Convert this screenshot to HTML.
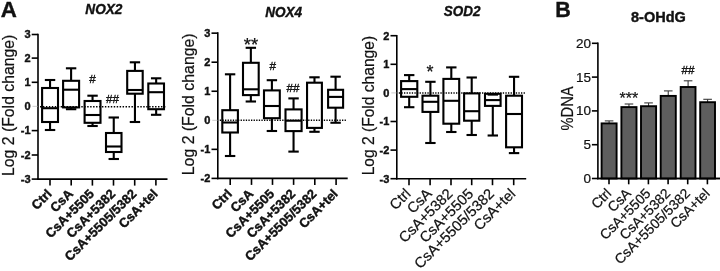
<!DOCTYPE html>
<html><head><meta charset="utf-8"><title>Figure</title>
<style>
html,body{margin:0;padding:0;background:#fff;}
body{width:720px;height:271px;overflow:hidden;}
svg{display:block;font-family:"Liberation Sans", Arial, sans-serif;will-change:transform;filter:grayscale(1);}
</style></head>
<body>
<svg width="720" height="271" viewBox="0 0 720 271">
<rect width="720" height="271" fill="#fff"/>
<line x1="38.00" y1="33.70" x2="38.00" y2="179.90" stroke="#000" stroke-width="1.6" />
<line x1="37.20" y1="179.10" x2="167.50" y2="179.10" stroke="#000" stroke-width="1.6" />
<line x1="31.70" y1="34.50" x2="38.00" y2="34.50" stroke="#000" stroke-width="1.6" />
<text x="30.50" y="38.00" font-size="11" font-weight="bold" font-style="normal" text-anchor="end" fill="#111"  stroke="#111" stroke-width="0.4">3</text>
<line x1="31.70" y1="58.10" x2="38.00" y2="58.10" stroke="#000" stroke-width="1.6" />
<text x="30.50" y="61.60" font-size="11" font-weight="bold" font-style="normal" text-anchor="end" fill="#111"  stroke="#111" stroke-width="0.4">2</text>
<line x1="31.70" y1="82.30" x2="38.00" y2="82.30" stroke="#000" stroke-width="1.6" />
<text x="30.50" y="85.80" font-size="11" font-weight="bold" font-style="normal" text-anchor="end" fill="#111"  stroke="#111" stroke-width="0.4">1</text>
<line x1="32.50" y1="106.35" x2="38.00" y2="106.35" stroke="#aaa" stroke-width="0.6" />
<text x="30.50" y="109.85" font-size="11" font-weight="bold" font-style="normal" text-anchor="end" fill="#111"  stroke="#111" stroke-width="0.4">0</text>
<line x1="31.70" y1="130.60" x2="38.00" y2="130.60" stroke="#000" stroke-width="1.6" />
<text x="30.50" y="134.10" font-size="11" font-weight="bold" font-style="normal" text-anchor="end" fill="#111"  stroke="#111" stroke-width="0.4">-1</text>
<line x1="31.70" y1="155.00" x2="38.00" y2="155.00" stroke="#000" stroke-width="1.6" />
<text x="30.50" y="158.50" font-size="11" font-weight="bold" font-style="normal" text-anchor="end" fill="#111"  stroke="#111" stroke-width="0.4">-2</text>
<line x1="31.70" y1="179.10" x2="38.00" y2="179.10" stroke="#000" stroke-width="1.6" />
<text x="30.50" y="182.60" font-size="11" font-weight="bold" font-style="normal" text-anchor="end" fill="#111"  stroke="#111" stroke-width="0.4">-3</text>
<line x1="50.00" y1="179.10" x2="50.00" y2="185.60" stroke="#000" stroke-width="1.6" />
<text x="52.60" y="194.60" font-size="13" font-weight="bold" font-style="normal" text-anchor="end" fill="#111" transform="rotate(-45 52.60 194.60)"  stroke="#111" stroke-width="0.4">Ctrl</text>
<line x1="71.20" y1="179.10" x2="71.20" y2="185.60" stroke="#000" stroke-width="1.6" />
<text x="73.80" y="194.60" font-size="13" font-weight="bold" font-style="normal" text-anchor="end" fill="#111" transform="rotate(-45 73.80 194.60)"  stroke="#111" stroke-width="0.4">CsA</text>
<line x1="92.40" y1="179.10" x2="92.40" y2="185.60" stroke="#000" stroke-width="1.6" />
<text x="95.00" y="194.60" font-size="13" font-weight="bold" font-style="normal" text-anchor="end" fill="#111" transform="rotate(-45 95.00 194.60)"  stroke="#111" stroke-width="0.4">CsA+5505</text>
<line x1="113.50" y1="179.10" x2="113.50" y2="185.60" stroke="#000" stroke-width="1.6" />
<text x="116.10" y="194.60" font-size="13" font-weight="bold" font-style="normal" text-anchor="end" fill="#111" transform="rotate(-45 116.10 194.60)"  stroke="#111" stroke-width="0.4">CsA+5382</text>
<line x1="134.70" y1="179.10" x2="134.70" y2="185.60" stroke="#000" stroke-width="1.6" />
<text x="137.30" y="194.60" font-size="13" font-weight="bold" font-style="normal" text-anchor="end" fill="#111" transform="rotate(-45 137.30 194.60)"  stroke="#111" stroke-width="0.4">CsA+5505/5382</text>
<line x1="155.90" y1="179.10" x2="155.90" y2="185.60" stroke="#000" stroke-width="1.6" />
<text x="158.50" y="194.60" font-size="13" font-weight="bold" font-style="normal" text-anchor="end" fill="#111" transform="rotate(-45 158.50 194.60)"  stroke="#111" stroke-width="0.4">CsA+tel</text>
<line x1="50.05" y1="80.00" x2="50.05" y2="88.00" stroke="#000" stroke-width="2.1" />
<line x1="44.85" y1="80.00" x2="55.25" y2="80.00" stroke="#000" stroke-width="2.1" />
<line x1="50.05" y1="122.00" x2="50.05" y2="130.00" stroke="#000" stroke-width="2.1" />
<line x1="44.85" y1="130.00" x2="55.25" y2="130.00" stroke="#000" stroke-width="2.1" />
<rect x="42.10" y="88.00" width="15.90" height="34.00" fill="none" stroke="#000" stroke-width="2.1"/>
<line x1="42.10" y1="108.20" x2="58.00" y2="108.20" stroke="#000" stroke-width="2.1" />
<line x1="71.10" y1="68.30" x2="71.10" y2="80.80" stroke="#000" stroke-width="2.1" />
<line x1="65.90" y1="68.30" x2="76.30" y2="68.30" stroke="#000" stroke-width="2.1" />
<line x1="71.10" y1="107.40" x2="71.10" y2="109.20" stroke="#000" stroke-width="2.1" />
<line x1="65.90" y1="109.20" x2="76.30" y2="109.20" stroke="#000" stroke-width="2.1" />
<rect x="63.10" y="80.80" width="16.00" height="26.60" fill="none" stroke="#000" stroke-width="2.1"/>
<line x1="63.10" y1="89.70" x2="79.10" y2="89.70" stroke="#000" stroke-width="2.1" />
<line x1="92.55" y1="95.70" x2="92.55" y2="101.00" stroke="#000" stroke-width="2.1" />
<line x1="87.35" y1="95.70" x2="97.75" y2="95.70" stroke="#000" stroke-width="2.1" />
<line x1="92.55" y1="122.80" x2="92.55" y2="126.00" stroke="#000" stroke-width="2.1" />
<line x1="87.35" y1="126.00" x2="97.75" y2="126.00" stroke="#000" stroke-width="2.1" />
<rect x="84.60" y="101.00" width="15.90" height="21.80" fill="none" stroke="#000" stroke-width="2.1"/>
<line x1="84.60" y1="115.00" x2="100.50" y2="115.00" stroke="#000" stroke-width="2.1" />
<line x1="113.75" y1="117.50" x2="113.75" y2="133.00" stroke="#000" stroke-width="2.1" />
<line x1="108.55" y1="117.50" x2="118.95" y2="117.50" stroke="#000" stroke-width="2.1" />
<line x1="113.75" y1="152.00" x2="113.75" y2="159.00" stroke="#000" stroke-width="2.1" />
<line x1="108.55" y1="159.00" x2="118.95" y2="159.00" stroke="#000" stroke-width="2.1" />
<rect x="106.00" y="133.00" width="15.50" height="19.00" fill="none" stroke="#000" stroke-width="2.1"/>
<line x1="106.00" y1="146.50" x2="121.50" y2="146.50" stroke="#000" stroke-width="2.1" />
<line x1="134.95" y1="62.30" x2="134.95" y2="70.90" stroke="#000" stroke-width="2.1" />
<line x1="129.75" y1="62.30" x2="140.15" y2="62.30" stroke="#000" stroke-width="2.1" />
<line x1="134.95" y1="93.70" x2="134.95" y2="122.00" stroke="#000" stroke-width="2.1" />
<line x1="129.75" y1="122.00" x2="140.15" y2="122.00" stroke="#000" stroke-width="2.1" />
<rect x="127.20" y="70.90" width="15.50" height="22.80" fill="none" stroke="#000" stroke-width="2.1"/>
<line x1="127.20" y1="90.00" x2="142.70" y2="90.00" stroke="#000" stroke-width="2.1" />
<line x1="156.15" y1="78.30" x2="156.15" y2="83.50" stroke="#000" stroke-width="2.1" />
<line x1="150.95" y1="78.30" x2="161.35" y2="78.30" stroke="#000" stroke-width="2.1" />
<line x1="156.15" y1="109.20" x2="156.15" y2="114.80" stroke="#000" stroke-width="2.1" />
<line x1="150.95" y1="114.80" x2="161.35" y2="114.80" stroke="#000" stroke-width="2.1" />
<rect x="148.30" y="83.50" width="15.70" height="25.70" fill="none" stroke="#000" stroke-width="2.1"/>
<line x1="148.30" y1="92.20" x2="164.00" y2="92.20" stroke="#000" stroke-width="2.1" />
<line x1="40.00" y1="106.80" x2="166.50" y2="106.80" stroke="#000" stroke-width="1.5" stroke-dasharray="1.45 1.5"/>
<text x="103.90" y="14.30" font-size="15" font-weight="bold" font-style="italic" text-anchor="middle" fill="#111" textLength="37.1" lengthAdjust="spacingAndGlyphs" stroke="#111" stroke-width="0.4">NOX2</text>
<text x="14.30" y="105.30" font-size="16.3" font-weight="normal" font-style="normal" text-anchor="middle" fill="#111" transform="rotate(-90 14.30 105.30)" textLength="141.3" lengthAdjust="spacingAndGlyphs" stroke="#111" stroke-width="0.22">Log 2 (Fold change)</text>
<text x="92.50" y="83.20" font-size="11.7" font-weight="normal" font-style="normal" text-anchor="middle" fill="#111" stroke="#111" stroke-width="0.35">#</text>
<text x="112.50" y="103.30" font-size="11.7" font-weight="normal" font-style="normal" text-anchor="middle" fill="#111" stroke="#111" stroke-width="0.35">##</text>
<text x="0.80" y="16.80" font-size="22.3" font-weight="bold" font-style="normal" text-anchor="start" fill="#111"  stroke="#111" stroke-width="0.4">A</text>
<line x1="217.80" y1="32.35" x2="217.80" y2="179.20" stroke="#000" stroke-width="1.6" />
<line x1="217.00" y1="178.40" x2="347.70" y2="178.40" stroke="#000" stroke-width="1.6" />
<line x1="211.50" y1="33.15" x2="217.80" y2="33.15" stroke="#000" stroke-width="1.6" />
<text x="210.30" y="36.65" font-size="11" font-weight="bold" font-style="normal" text-anchor="end" fill="#111"  stroke="#111" stroke-width="0.4">3</text>
<line x1="211.50" y1="62.20" x2="217.80" y2="62.20" stroke="#000" stroke-width="1.6" />
<text x="210.30" y="65.70" font-size="11" font-weight="bold" font-style="normal" text-anchor="end" fill="#111"  stroke="#111" stroke-width="0.4">2</text>
<line x1="211.50" y1="91.25" x2="217.80" y2="91.25" stroke="#000" stroke-width="1.6" />
<text x="210.30" y="94.75" font-size="11" font-weight="bold" font-style="normal" text-anchor="end" fill="#111"  stroke="#111" stroke-width="0.4">1</text>
<line x1="212.30" y1="120.30" x2="217.80" y2="120.30" stroke="#aaa" stroke-width="0.6" />
<text x="210.30" y="123.80" font-size="11" font-weight="bold" font-style="normal" text-anchor="end" fill="#111"  stroke="#111" stroke-width="0.4">0</text>
<line x1="211.50" y1="149.35" x2="217.80" y2="149.35" stroke="#000" stroke-width="1.6" />
<text x="210.30" y="152.85" font-size="11" font-weight="bold" font-style="normal" text-anchor="end" fill="#111"  stroke="#111" stroke-width="0.4">-1</text>
<line x1="211.50" y1="178.40" x2="217.80" y2="178.40" stroke="#000" stroke-width="1.6" />
<text x="210.30" y="181.90" font-size="11" font-weight="bold" font-style="normal" text-anchor="end" fill="#111"  stroke="#111" stroke-width="0.4">-2</text>
<line x1="230.20" y1="178.40" x2="230.20" y2="184.90" stroke="#000" stroke-width="1.6" />
<text x="232.80" y="194.60" font-size="13" font-weight="bold" font-style="normal" text-anchor="end" fill="#111" transform="rotate(-45 232.80 194.60)"  stroke="#111" stroke-width="0.4">Ctrl</text>
<line x1="251.50" y1="178.40" x2="251.50" y2="184.90" stroke="#000" stroke-width="1.6" />
<text x="254.10" y="194.60" font-size="13" font-weight="bold" font-style="normal" text-anchor="end" fill="#111" transform="rotate(-45 254.10 194.60)"  stroke="#111" stroke-width="0.4">CsA</text>
<line x1="272.50" y1="178.40" x2="272.50" y2="184.90" stroke="#000" stroke-width="1.6" />
<text x="275.10" y="194.60" font-size="13" font-weight="bold" font-style="normal" text-anchor="end" fill="#111" transform="rotate(-45 275.10 194.60)"  stroke="#111" stroke-width="0.4">CsA+5505</text>
<line x1="293.60" y1="178.40" x2="293.60" y2="184.90" stroke="#000" stroke-width="1.6" />
<text x="296.20" y="194.60" font-size="13" font-weight="bold" font-style="normal" text-anchor="end" fill="#111" transform="rotate(-45 296.20 194.60)"  stroke="#111" stroke-width="0.4">CsA+5382</text>
<line x1="314.80" y1="178.40" x2="314.80" y2="184.90" stroke="#000" stroke-width="1.6" />
<text x="317.40" y="194.60" font-size="13" font-weight="bold" font-style="normal" text-anchor="end" fill="#111" transform="rotate(-45 317.40 194.60)"  stroke="#111" stroke-width="0.4">CsA+5505/5382</text>
<line x1="336.10" y1="178.40" x2="336.10" y2="184.90" stroke="#000" stroke-width="1.6" />
<text x="338.70" y="194.60" font-size="13" font-weight="bold" font-style="normal" text-anchor="end" fill="#111" transform="rotate(-45 338.70 194.60)"  stroke="#111" stroke-width="0.4">CsA+tel</text>
<line x1="230.10" y1="74.30" x2="230.10" y2="110.20" stroke="#000" stroke-width="2.1" />
<line x1="224.90" y1="74.30" x2="235.30" y2="74.30" stroke="#000" stroke-width="2.1" />
<line x1="230.10" y1="132.50" x2="230.10" y2="156.00" stroke="#000" stroke-width="2.1" />
<line x1="224.90" y1="156.00" x2="235.30" y2="156.00" stroke="#000" stroke-width="2.1" />
<rect x="222.30" y="110.20" width="15.60" height="22.30" fill="none" stroke="#000" stroke-width="2.1"/>
<line x1="222.30" y1="122.50" x2="237.90" y2="122.50" stroke="#000" stroke-width="2.1" />
<line x1="250.85" y1="47.80" x2="250.85" y2="62.80" stroke="#000" stroke-width="2.1" />
<line x1="245.65" y1="47.80" x2="256.05" y2="47.80" stroke="#000" stroke-width="2.1" />
<line x1="250.85" y1="95.10" x2="250.85" y2="101.50" stroke="#000" stroke-width="2.1" />
<line x1="245.65" y1="101.50" x2="256.05" y2="101.50" stroke="#000" stroke-width="2.1" />
<rect x="243.00" y="62.80" width="15.70" height="32.30" fill="none" stroke="#000" stroke-width="2.1"/>
<line x1="243.00" y1="89.30" x2="258.70" y2="89.30" stroke="#000" stroke-width="2.1" />
<line x1="271.90" y1="80.20" x2="271.90" y2="90.40" stroke="#000" stroke-width="2.1" />
<line x1="266.70" y1="80.20" x2="277.10" y2="80.20" stroke="#000" stroke-width="2.1" />
<line x1="271.90" y1="118.20" x2="271.90" y2="131.00" stroke="#000" stroke-width="2.1" />
<line x1="266.70" y1="131.00" x2="277.10" y2="131.00" stroke="#000" stroke-width="2.1" />
<rect x="264.00" y="90.40" width="15.80" height="27.80" fill="none" stroke="#000" stroke-width="2.1"/>
<line x1="264.00" y1="106.00" x2="279.80" y2="106.00" stroke="#000" stroke-width="2.1" />
<line x1="293.55" y1="98.40" x2="293.55" y2="109.40" stroke="#000" stroke-width="2.1" />
<line x1="288.35" y1="98.40" x2="298.75" y2="98.40" stroke="#000" stroke-width="2.1" />
<line x1="293.55" y1="131.10" x2="293.55" y2="151.60" stroke="#000" stroke-width="2.1" />
<line x1="288.35" y1="151.60" x2="298.75" y2="151.60" stroke="#000" stroke-width="2.1" />
<rect x="285.50" y="109.40" width="16.10" height="21.70" fill="none" stroke="#000" stroke-width="2.1"/>
<line x1="285.50" y1="120.70" x2="301.60" y2="120.70" stroke="#000" stroke-width="2.1" />
<line x1="314.48" y1="77.30" x2="314.48" y2="82.70" stroke="#000" stroke-width="2.1" />
<line x1="309.28" y1="77.30" x2="319.68" y2="77.30" stroke="#000" stroke-width="2.1" />
<line x1="314.48" y1="127.90" x2="314.48" y2="131.80" stroke="#000" stroke-width="2.1" />
<line x1="309.28" y1="131.80" x2="319.68" y2="131.80" stroke="#000" stroke-width="2.1" />
<rect x="307.05" y="82.70" width="14.85" height="45.20" fill="none" stroke="#000" stroke-width="2.1"/>
<line x1="335.60" y1="76.70" x2="335.60" y2="89.80" stroke="#000" stroke-width="2.1" />
<line x1="330.40" y1="76.70" x2="340.80" y2="76.70" stroke="#000" stroke-width="2.1" />
<line x1="335.60" y1="107.70" x2="335.60" y2="122.75" stroke="#000" stroke-width="2.1" />
<line x1="330.40" y1="122.75" x2="340.80" y2="122.75" stroke="#000" stroke-width="2.1" />
<rect x="328.10" y="89.80" width="15.00" height="17.90" fill="none" stroke="#000" stroke-width="2.1"/>
<line x1="328.10" y1="96.90" x2="343.10" y2="96.90" stroke="#000" stroke-width="2.1" />
<line x1="219.80" y1="120.30" x2="346.70" y2="120.30" stroke="#000" stroke-width="1.5" stroke-dasharray="1.3 1.3"/>
<text x="283.60" y="17.20" font-size="15" font-weight="bold" font-style="italic" text-anchor="middle" fill="#111" textLength="36.9" lengthAdjust="spacingAndGlyphs" stroke="#111" stroke-width="0.4">NOX4</text>
<text x="194.20" y="104.30" font-size="16.3" font-weight="normal" font-style="normal" text-anchor="middle" fill="#111" transform="rotate(-90 194.20 104.30)" textLength="141.8" lengthAdjust="spacingAndGlyphs" stroke="#111" stroke-width="0.22">Log 2 (Fold change)</text>
<text x="251.00" y="50.60" font-size="18.5" font-weight="normal" font-style="normal" text-anchor="middle" fill="#111"  stroke="#111" stroke-width="0.22">**</text>
<text x="272.80" y="70.00" font-size="11.7" font-weight="normal" font-style="normal" text-anchor="middle" fill="#111" stroke="#111" stroke-width="0.35">#</text>
<text x="293.00" y="91.50" font-size="11.7" font-weight="normal" font-style="normal" text-anchor="middle" fill="#111" stroke="#111" stroke-width="0.35">##</text>
<line x1="396.80" y1="34.90" x2="396.80" y2="179.50" stroke="#000" stroke-width="1.6" />
<line x1="396.00" y1="178.70" x2="526.20" y2="178.70" stroke="#000" stroke-width="1.6" />
<line x1="390.50" y1="35.70" x2="396.80" y2="35.70" stroke="#000" stroke-width="1.6" />
<text x="389.30" y="39.60" font-size="11" font-weight="bold" font-style="normal" text-anchor="end" fill="#111"  stroke="#111" stroke-width="0.4">2</text>
<line x1="390.50" y1="64.30" x2="396.80" y2="64.30" stroke="#000" stroke-width="1.6" />
<text x="389.30" y="68.20" font-size="11" font-weight="bold" font-style="normal" text-anchor="end" fill="#111"  stroke="#111" stroke-width="0.4">1</text>
<line x1="391.30" y1="92.90" x2="396.80" y2="92.90" stroke="#aaa" stroke-width="0.6" />
<text x="389.30" y="96.80" font-size="11" font-weight="bold" font-style="normal" text-anchor="end" fill="#111"  stroke="#111" stroke-width="0.4">0</text>
<line x1="390.50" y1="121.50" x2="396.80" y2="121.50" stroke="#000" stroke-width="1.6" />
<text x="389.30" y="125.40" font-size="11" font-weight="bold" font-style="normal" text-anchor="end" fill="#111"  stroke="#111" stroke-width="0.4">-1</text>
<line x1="390.50" y1="150.10" x2="396.80" y2="150.10" stroke="#000" stroke-width="1.6" />
<text x="389.30" y="154.00" font-size="11" font-weight="bold" font-style="normal" text-anchor="end" fill="#111"  stroke="#111" stroke-width="0.4">-2</text>
<line x1="390.50" y1="178.70" x2="396.80" y2="178.70" stroke="#000" stroke-width="1.6" />
<text x="389.30" y="182.60" font-size="11" font-weight="bold" font-style="normal" text-anchor="end" fill="#111"  stroke="#111" stroke-width="0.4">-3</text>
<line x1="409.00" y1="178.70" x2="409.00" y2="185.20" stroke="#000" stroke-width="1.6" />
<text x="411.60" y="194.60" font-size="14.7" font-weight="normal" font-style="normal" text-anchor="end" fill="#111" transform="rotate(-45 411.60 194.60)"  stroke="#111" stroke-width="0.22">Ctrl</text>
<line x1="430.10" y1="178.70" x2="430.10" y2="185.20" stroke="#000" stroke-width="1.6" />
<text x="432.70" y="194.60" font-size="14.7" font-weight="normal" font-style="normal" text-anchor="end" fill="#111" transform="rotate(-45 432.70 194.60)"  stroke="#111" stroke-width="0.22">CsA</text>
<line x1="451.00" y1="178.70" x2="451.00" y2="185.20" stroke="#000" stroke-width="1.6" />
<text x="453.60" y="194.60" font-size="14.7" font-weight="normal" font-style="normal" text-anchor="end" fill="#111" transform="rotate(-45 453.60 194.60)"  stroke="#111" stroke-width="0.22">CsA+5382</text>
<line x1="471.70" y1="178.70" x2="471.70" y2="185.20" stroke="#000" stroke-width="1.6" />
<text x="474.30" y="194.60" font-size="14.7" font-weight="normal" font-style="normal" text-anchor="end" fill="#111" transform="rotate(-45 474.30 194.60)"  stroke="#111" stroke-width="0.22">CsA+5505</text>
<line x1="492.50" y1="178.70" x2="492.50" y2="185.20" stroke="#000" stroke-width="1.6" />
<text x="495.10" y="194.60" font-size="14.7" font-weight="normal" font-style="normal" text-anchor="end" fill="#111" transform="rotate(-45 495.10 194.60)"  stroke="#111" stroke-width="0.22">CsA+5505/5382</text>
<line x1="513.70" y1="178.70" x2="513.70" y2="185.20" stroke="#000" stroke-width="1.6" />
<text x="516.30" y="194.60" font-size="14.7" font-weight="normal" font-style="normal" text-anchor="end" fill="#111" transform="rotate(-45 516.30 194.60)"  stroke="#111" stroke-width="0.22">CsA+tel</text>
<line x1="409.20" y1="75.10" x2="409.20" y2="81.10" stroke="#000" stroke-width="2.1" />
<line x1="404.00" y1="75.10" x2="414.40" y2="75.10" stroke="#000" stroke-width="2.1" />
<line x1="409.20" y1="96.80" x2="409.20" y2="107.20" stroke="#000" stroke-width="2.1" />
<line x1="404.00" y1="107.20" x2="414.40" y2="107.20" stroke="#000" stroke-width="2.1" />
<rect x="401.10" y="81.10" width="16.20" height="15.70" fill="none" stroke="#000" stroke-width="2.1"/>
<line x1="401.10" y1="89.10" x2="417.30" y2="89.10" stroke="#000" stroke-width="2.1" />
<line x1="430.40" y1="81.80" x2="430.40" y2="95.70" stroke="#000" stroke-width="2.1" />
<line x1="425.20" y1="81.80" x2="435.60" y2="81.80" stroke="#000" stroke-width="2.1" />
<line x1="430.40" y1="111.90" x2="430.40" y2="143.00" stroke="#000" stroke-width="2.1" />
<line x1="425.20" y1="143.00" x2="435.60" y2="143.00" stroke="#000" stroke-width="2.1" />
<rect x="422.50" y="95.70" width="15.80" height="16.20" fill="none" stroke="#000" stroke-width="2.1"/>
<line x1="422.50" y1="101.80" x2="438.30" y2="101.80" stroke="#000" stroke-width="2.1" />
<line x1="451.30" y1="67.40" x2="451.30" y2="78.90" stroke="#000" stroke-width="2.1" />
<line x1="446.10" y1="67.40" x2="456.50" y2="67.40" stroke="#000" stroke-width="2.1" />
<line x1="451.30" y1="123.70" x2="451.30" y2="132.00" stroke="#000" stroke-width="2.1" />
<line x1="446.10" y1="132.00" x2="456.50" y2="132.00" stroke="#000" stroke-width="2.1" />
<rect x="443.40" y="78.90" width="15.80" height="44.80" fill="none" stroke="#000" stroke-width="2.1"/>
<line x1="443.40" y1="100.80" x2="459.20" y2="100.80" stroke="#000" stroke-width="2.1" />
<line x1="471.70" y1="77.50" x2="471.70" y2="93.40" stroke="#000" stroke-width="2.1" />
<line x1="466.50" y1="77.50" x2="476.90" y2="77.50" stroke="#000" stroke-width="2.1" />
<line x1="471.70" y1="120.70" x2="471.70" y2="135.00" stroke="#000" stroke-width="2.1" />
<line x1="466.50" y1="135.00" x2="476.90" y2="135.00" stroke="#000" stroke-width="2.1" />
<rect x="464.10" y="93.40" width="15.20" height="27.30" fill="none" stroke="#000" stroke-width="2.1"/>
<line x1="464.10" y1="111.20" x2="479.30" y2="111.20" stroke="#000" stroke-width="2.1" />
<line x1="487.60" y1="94.60" x2="498.00" y2="94.60" stroke="#000" stroke-width="2.1" />
<line x1="492.80" y1="105.90" x2="492.80" y2="135.50" stroke="#000" stroke-width="2.1" />
<line x1="487.60" y1="135.50" x2="498.00" y2="135.50" stroke="#000" stroke-width="2.1" />
<rect x="485.00" y="93.80" width="15.60" height="12.10" fill="none" stroke="#000" stroke-width="2.1"/>
<line x1="485.00" y1="100.10" x2="500.60" y2="100.10" stroke="#000" stroke-width="2.1" />
<line x1="514.05" y1="76.80" x2="514.05" y2="95.70" stroke="#000" stroke-width="2.1" />
<line x1="508.85" y1="76.80" x2="519.25" y2="76.80" stroke="#000" stroke-width="2.1" />
<line x1="514.05" y1="147.30" x2="514.05" y2="153.10" stroke="#000" stroke-width="2.1" />
<line x1="508.85" y1="153.10" x2="519.25" y2="153.10" stroke="#000" stroke-width="2.1" />
<rect x="506.10" y="95.70" width="15.90" height="51.60" fill="none" stroke="#000" stroke-width="2.1"/>
<line x1="506.10" y1="114.00" x2="522.00" y2="114.00" stroke="#000" stroke-width="2.1" />
<line x1="398.80" y1="92.90" x2="525.20" y2="92.90" stroke="#000" stroke-width="1.5" stroke-dasharray="1.3 1.3"/>
<text x="462.20" y="16.10" font-size="15" font-weight="bold" font-style="italic" text-anchor="middle" fill="#111" textLength="36.7" lengthAdjust="spacingAndGlyphs" stroke="#111" stroke-width="0.4">SOD2</text>
<text x="374.30" y="105.60" font-size="16.3" font-weight="normal" font-style="normal" text-anchor="middle" fill="#111" transform="rotate(-90 374.30 105.60)" textLength="139.5" lengthAdjust="spacingAndGlyphs" stroke="#111" stroke-width="0.22">Log 2 (Fold change)</text>
<text x="430.10" y="77.60" font-size="18" font-weight="normal" font-style="normal" text-anchor="middle" fill="#111"  stroke="#111" stroke-width="0.22">*</text>
<line x1="597.90" y1="42.50" x2="597.90" y2="179.30" stroke="#000" stroke-width="1.6" />
<line x1="597.10" y1="178.50" x2="720.00" y2="178.50" stroke="#000" stroke-width="1.6" />
<line x1="591.90" y1="178.50" x2="597.90" y2="178.50" stroke="#000" stroke-width="1.6" />
<text x="591.00" y="182.90" font-size="13.5" font-weight="normal" font-style="normal" text-anchor="end" fill="#111"  stroke="#111" stroke-width="0.22">0</text>
<line x1="591.90" y1="144.70" x2="597.90" y2="144.70" stroke="#000" stroke-width="1.6" />
<text x="591.00" y="149.10" font-size="13.5" font-weight="normal" font-style="normal" text-anchor="end" fill="#111"  stroke="#111" stroke-width="0.22">5</text>
<line x1="591.90" y1="110.90" x2="597.90" y2="110.90" stroke="#000" stroke-width="1.6" />
<text x="591.00" y="115.30" font-size="13.5" font-weight="normal" font-style="normal" text-anchor="end" fill="#111"  stroke="#111" stroke-width="0.22">10</text>
<line x1="591.90" y1="77.10" x2="597.90" y2="77.10" stroke="#000" stroke-width="1.6" />
<text x="591.00" y="81.50" font-size="13.5" font-weight="normal" font-style="normal" text-anchor="end" fill="#111"  stroke="#111" stroke-width="0.22">15</text>
<line x1="591.90" y1="43.30" x2="597.90" y2="43.30" stroke="#000" stroke-width="1.6" />
<text x="591.00" y="47.70" font-size="13.5" font-weight="normal" font-style="normal" text-anchor="end" fill="#111"  stroke="#111" stroke-width="0.22">20</text>
<line x1="609.10" y1="120.90" x2="609.10" y2="123.40" stroke="#3a3a3a" stroke-width="1.1" />
<line x1="604.80" y1="120.90" x2="613.40" y2="120.90" stroke="#3a3a3a" stroke-width="1.1" />
<rect x="601.60" y="123.40" width="15.00" height="55.10" fill="#5e5e5e" stroke="#000" stroke-width="1.9"/>
<line x1="628.95" y1="104.00" x2="628.95" y2="107.10" stroke="#3a3a3a" stroke-width="1.1" />
<line x1="624.65" y1="104.00" x2="633.25" y2="104.00" stroke="#3a3a3a" stroke-width="1.1" />
<rect x="621.40" y="107.10" width="15.10" height="71.40" fill="#5e5e5e" stroke="#000" stroke-width="1.9"/>
<line x1="648.55" y1="102.90" x2="648.55" y2="106.20" stroke="#3a3a3a" stroke-width="1.1" />
<line x1="644.25" y1="102.90" x2="652.85" y2="102.90" stroke="#3a3a3a" stroke-width="1.1" />
<rect x="641.00" y="106.20" width="15.10" height="72.30" fill="#5e5e5e" stroke="#000" stroke-width="1.9"/>
<line x1="668.25" y1="90.90" x2="668.25" y2="95.90" stroke="#3a3a3a" stroke-width="1.1" />
<line x1="663.95" y1="90.90" x2="672.55" y2="90.90" stroke="#3a3a3a" stroke-width="1.1" />
<rect x="660.70" y="95.90" width="15.10" height="82.60" fill="#5e5e5e" stroke="#000" stroke-width="1.9"/>
<line x1="688.10" y1="80.80" x2="688.10" y2="87.00" stroke="#3a3a3a" stroke-width="1.1" />
<line x1="683.80" y1="80.80" x2="692.40" y2="80.80" stroke="#3a3a3a" stroke-width="1.1" />
<rect x="680.70" y="87.00" width="14.80" height="91.50" fill="#5e5e5e" stroke="#000" stroke-width="1.9"/>
<line x1="707.60" y1="99.30" x2="707.60" y2="102.20" stroke="#3a3a3a" stroke-width="1.1" />
<line x1="703.30" y1="99.30" x2="711.90" y2="99.30" stroke="#3a3a3a" stroke-width="1.1" />
<rect x="700.20" y="102.20" width="14.80" height="76.30" fill="#5e5e5e" stroke="#000" stroke-width="1.9"/>
<line x1="597.10" y1="178.50" x2="720.00" y2="178.50" stroke="#000" stroke-width="1.6" />
<line x1="609.00" y1="178.50" x2="609.00" y2="184.30" stroke="#000" stroke-width="1.6" />
<text x="612.20" y="194.30" font-size="13.9" font-weight="normal" font-style="normal" text-anchor="end" fill="#111" transform="rotate(-45 612.20 194.30)"  stroke="#111" stroke-width="0.22">Ctrl</text>
<line x1="628.70" y1="178.50" x2="628.70" y2="184.30" stroke="#000" stroke-width="1.6" />
<text x="631.90" y="194.30" font-size="13.9" font-weight="normal" font-style="normal" text-anchor="end" fill="#111" transform="rotate(-45 631.90 194.30)"  stroke="#111" stroke-width="0.22">CsA</text>
<line x1="648.40" y1="178.50" x2="648.40" y2="184.30" stroke="#000" stroke-width="1.6" />
<text x="651.60" y="194.30" font-size="13.9" font-weight="normal" font-style="normal" text-anchor="end" fill="#111" transform="rotate(-45 651.60 194.30)"  stroke="#111" stroke-width="0.22">CsA+5505</text>
<line x1="668.10" y1="178.50" x2="668.10" y2="184.30" stroke="#000" stroke-width="1.6" />
<text x="671.30" y="194.30" font-size="13.9" font-weight="normal" font-style="normal" text-anchor="end" fill="#111" transform="rotate(-45 671.30 194.30)"  stroke="#111" stroke-width="0.22">CsA+5382</text>
<line x1="687.70" y1="178.50" x2="687.70" y2="184.30" stroke="#000" stroke-width="1.6" />
<text x="690.90" y="194.30" font-size="13.9" font-weight="normal" font-style="normal" text-anchor="end" fill="#111" transform="rotate(-45 690.90 194.30)"  stroke="#111" stroke-width="0.22">CsA+5505/5382</text>
<line x1="707.40" y1="178.50" x2="707.40" y2="184.30" stroke="#000" stroke-width="1.6" />
<text x="710.60" y="194.30" font-size="13.9" font-weight="normal" font-style="normal" text-anchor="end" fill="#111" transform="rotate(-45 710.60 194.30)"  stroke="#111" stroke-width="0.22">CsA+tel</text>
<text x="658.40" y="22.30" font-size="14.5" font-weight="bold" font-style="normal" text-anchor="middle" fill="#111"  stroke="#111" stroke-width="0.4">8-OHdG</text>
<text x="555.30" y="17.10" font-size="21.5" font-weight="bold" font-style="normal" text-anchor="start" fill="#111"  stroke="#111" stroke-width="0.4">B</text>
<text x="573.00" y="108.50" font-size="17" font-weight="normal" font-style="normal" text-anchor="middle" fill="#111" transform="rotate(-90 573.00 108.50)" textLength="44" lengthAdjust="spacingAndGlyphs" stroke="#111" stroke-width="0.22">%DNA</text>
<text x="628.90" y="103.50" font-size="16" font-weight="normal" font-style="normal" text-anchor="middle" fill="#111"  stroke="#111" stroke-width="0.22">***</text>
<text x="688.00" y="73.90" font-size="11.7" font-weight="normal" font-style="normal" text-anchor="middle" fill="#111" stroke="#111" stroke-width="0.35">##</text>
</svg>
</body></html>
